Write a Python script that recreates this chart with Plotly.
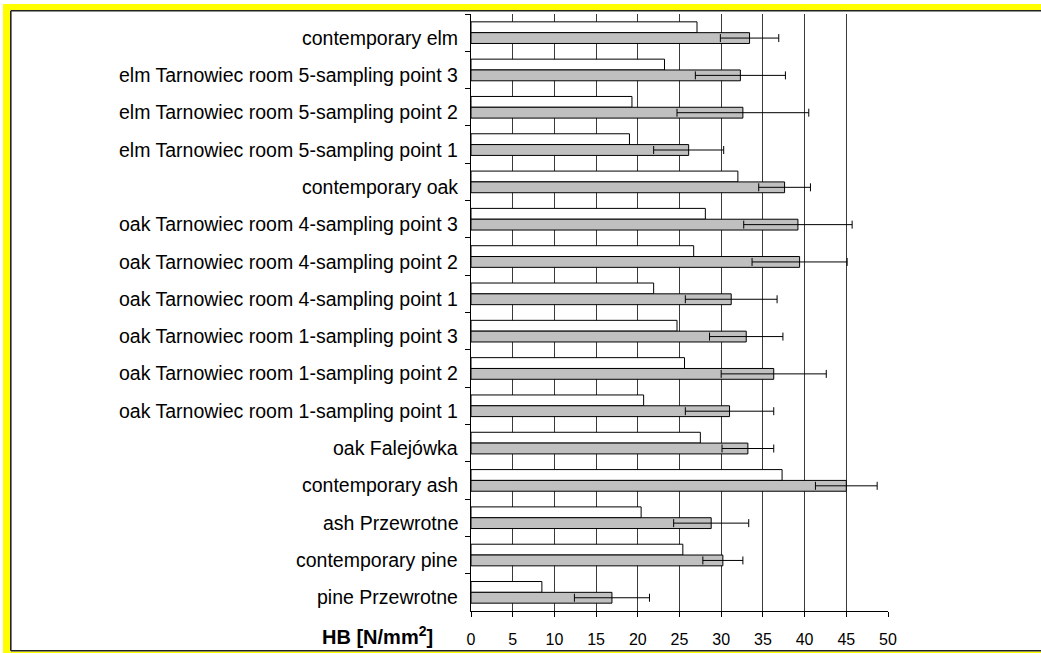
import plotly.graph_objects as go

categories = [
    "contemporary elm",
    "elm Tarnowiec room 5-sampling point 3",
    "elm Tarnowiec room 5-sampling point 2",
    "elm Tarnowiec room 5-sampling point 1",
    "contemporary oak",
    "oak Tarnowiec room 4-sampling point 3",
    "oak Tarnowiec room 4-sampling point 2",
    "oak Tarnowiec room 4-sampling point 1",
    "oak Tarnowiec room 1-sampling point 3",
    "oak Tarnowiec room 1-sampling point 2",
    "oak Tarnowiec room 1-sampling point 1",
    "oak Falejówka",
    "contemporary ash",
    "ash Przewrotne",
    "contemporary pine",
    "pine Przewrotne",
]
white_values = [27.1, 23.2, 19.3, 19.0, 32.0, 28.1, 26.7, 21.9, 24.7, 25.6, 20.7, 27.5, 37.3, 20.4, 25.4, 8.5]
gray_values = [33.4, 32.3, 32.6, 26.1, 37.6, 39.2, 39.4, 31.2, 33.0, 36.3, 31.0, 33.2, 45.0, 28.8, 30.2, 16.9]
gray_errors = [3.5, 5.4, 7.9, 4.2, 3.1, 6.5, 5.7, 5.5, 4.4, 6.3, 5.3, 3.1, 3.7, 4.5, 2.4, 4.5]
x_ticks = [0, 5, 10, 15, 20, 25, 30, 35, 40, 45, 50]

W, H = 1041, 653
L, R, T, B = 471, 888, 14, 611

fig = go.Figure()
fig.add_trace(go.Bar(
    y=categories, x=white_values, orientation="h",
    marker=dict(color="white", line=dict(color="black", width=1)),
    showlegend=False, hoverinfo="skip",
))
fig.add_trace(go.Bar(
    y=categories, x=gray_values, orientation="h",
    marker=dict(color="#c0c0c0", line=dict(color="black", width=1)),
    error_x=dict(type="data", array=gray_errors, color="black", thickness=1, width=4),
    showlegend=False, hoverinfo="skip",
))

def px(x):
    return (x - L) / (R - L)

def py(y):
    return (B - y) / (B - T)

shapes = [
    # yellow frame
    dict(type="rect", xref="paper", yref="paper", x0=px(3), x1=px(10), y0=py(653), y1=py(4),
         fillcolor="#ffff00", line=dict(width=0), layer="above"),
    dict(type="rect", xref="paper", yref="paper", x0=px(3), x1=px(1045), y0=py(10), y1=py(4),
         fillcolor="#ffff00", line=dict(width=0), layer="above"),
    dict(type="rect", xref="paper", yref="paper", x0=px(3), x1=px(1045), y0=py(656), y1=py(651.5),
         fillcolor="#ffff00", line=dict(width=0), layer="above"),
    # inner dark line
    dict(type="line", xref="paper", yref="paper", x0=px(10.8), x1=px(1045), y0=py(10.8), y1=py(10.8),
         line=dict(color="#222222", width=1.6), layer="above"),
    dict(type="line", xref="paper", yref="paper", x0=px(10.8), x1=px(10.8), y0=py(10.8), y1=py(650.8),
         line=dict(color="#222222", width=1.6), layer="above"),
    dict(type="line", xref="paper", yref="paper", x0=px(10.8), x1=px(1045), y0=py(650.8), y1=py(650.8),
         line=dict(color="#222222", width=1.6), layer="above"),
]

annotations = [dict(
    text="<b>HB [N/mm<sup>2</sup>]</b>", xref="paper", yref="paper",
    x=px(435), y=py(635), xanchor="right", yanchor="middle", showarrow=False,
    font=dict(size=20, color="black"),
)]
for c in categories:
    annotations.append(dict(
        text=c, xref="paper", yref="y", x=px(460), y=c,
        xanchor="right", yanchor="middle", showarrow=False, yshift=-5,
        font=dict(size=19.5, color="black"),
    ))

fig.update_layout(
    width=W, height=H,
    margin=dict(l=L, r=W - R, t=T, b=H - B, pad=0, autoexpand=False),
    paper_bgcolor="white", plot_bgcolor="white",
    barmode="group", bargap=0.42, bargroupgap=0,
    font=dict(family="Liberation Sans, Arial, sans-serif", color="black"),
    shapes=shapes,
    annotations=annotations,
)
fig.update_xaxes(
    range=[0, 50], tickvals=x_ticks, ticktext=[str(v) for v in x_ticks],
    showgrid=True, gridcolor="#3a3a3a", gridwidth=1,
    showline=True, linecolor="black", linewidth=1,
    ticks="outside", ticklen=5, tickcolor="black", automargin=False,
    tickfont=dict(size=16), zeroline=False, ticklabelstandoff=9,
)
fig.update_yaxes(
    type="category", autorange="reversed", categoryorder="array", categoryarray=categories,
    showline=True, linecolor="black", linewidth=1, automargin=False,
    ticks="outside", ticklen=5, tickcolor="black", tickson="boundaries",
    showticklabels=False, showgrid=False,
)

fig.write_html("out.html", config={"displayModeBar": False},
               post_script="document.body.style.margin='0';")
